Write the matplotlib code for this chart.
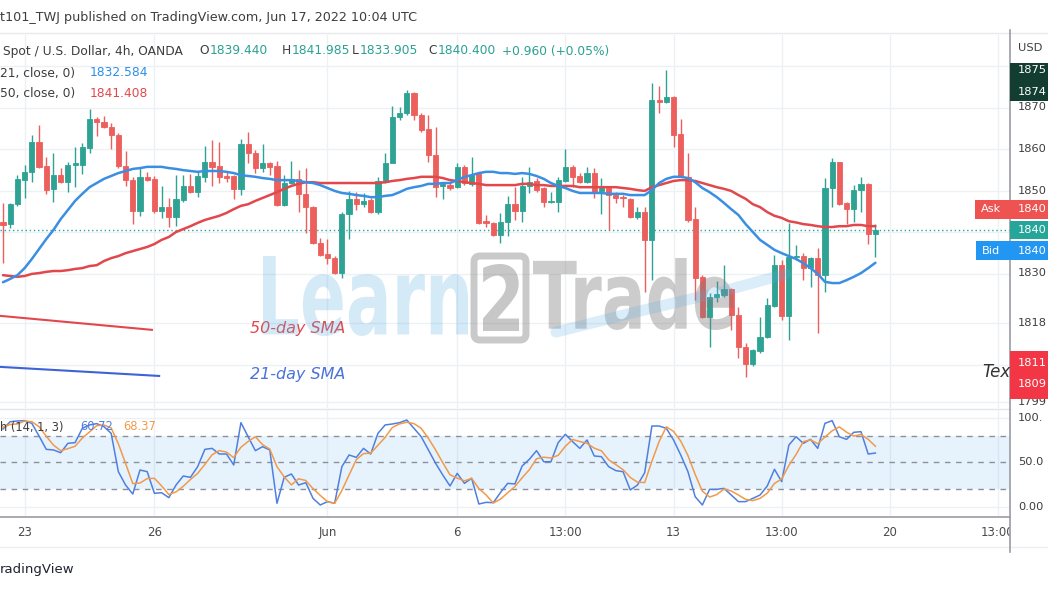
import matplotlib
matplotlib.use("Agg")
import matplotlib.pyplot as plt
import numpy as np
from matplotlib.patches import Rectangle, PathPatch, FancyBboxPatch
from matplotlib.textpath import TextPath
from matplotlib.font_manager import FontProperties
from matplotlib.transforms import Affine2D, IdentityTransform, blended_transform_factory
from matplotlib.lines import Line2D

# ---------------- data (XAU/USD 4h, OANDA) ----------------
opens = [1842.4, 1841.9, 1846.7, 1852.5, 1854.5, 1861.7, 1855.9, 1850.4, 1853.7, 1852.0,
         1856.1, 1856.1, 1860.2, 1867.2, 1866.5, 1865.3, 1863.4, 1855.9, 1852.5, 1845.1,
         1853.3, 1852.8, 1845.1, 1846.0, 1843.6, 1847.7, 1851.1, 1849.6, 1853.3, 1856.9,
         1855.9, 1853.5, 1853.5, 1850.4, 1861.2, 1859.0, 1855.4, 1856.6, 1855.9, 1846.5,
         1851.8, 1852.8, 1849.2, 1846.0, 1837.4, 1834.7, 1833.7, 1830.1, 1844.3, 1848.0,
         1846.7, 1847.7, 1844.8, 1852.0, 1856.6, 1867.7, 1868.7, 1873.5, 1868.2, 1864.8,
         1858.6, 1851.1, 1851.3, 1850.8, 1855.7, 1851.6, 1854.2, 1842.7, 1842.2, 1839.3,
         1842.4, 1846.7, 1845.1, 1851.1, 1852.3, 1850.6, 1847.2, 1847.2, 1852.3, 1855.7,
         1853.5, 1852.0, 1854.2, 1849.9, 1850.6, 1848.9, 1848.4, 1848.0, 1843.6, 1844.8,
         1838.1, 1871.8, 1871.3, 1872.5, 1863.6, 1853.3, 1843.1, 1829.2, 1819.5, 1824.3,
         1824.8, 1826.3, 1820.0, 1812.3, 1808.2, 1811.3, 1814.7, 1822.2, 1832.0, 1819.8,
         1834.0, 1834.2, 1831.3, 1833.7, 1829.6, 1850.6, 1856.9, 1847.0, 1845.5, 1850.1,
         1851.6, 1839.44]
highs = [1847.0, 1847.0, 1853.7, 1856.1, 1863.4, 1865.8, 1858.1, 1859.0, 1855.4, 1856.9,
         1860.5, 1861.4, 1869.6, 1867.7, 1868.0, 1866.3, 1863.9, 1859.5, 1853.3, 1855.7,
         1854.5, 1853.5, 1851.1, 1848.2, 1853.7, 1853.7, 1854.0, 1854.7, 1860.7, 1862.2,
         1861.7, 1854.5, 1853.7, 1862.4, 1864.1, 1859.8, 1861.2, 1856.9, 1857.1, 1853.7,
         1857.1, 1854.9, 1855.4, 1846.3, 1838.6, 1838.3, 1834.2, 1844.8, 1849.9, 1849.6,
         1849.4, 1848.2, 1853.3, 1859.0, 1870.4, 1870.1, 1874.2, 1873.7, 1868.7, 1868.2,
         1865.3, 1851.8, 1851.8, 1856.6, 1856.1, 1858.1, 1854.2, 1844.1, 1842.4, 1844.6,
         1848.7, 1850.8, 1853.3, 1855.7, 1853.0, 1850.8, 1849.6, 1853.3, 1860.0, 1856.1,
         1854.2, 1855.7, 1855.4, 1853.0, 1850.8, 1849.6, 1848.9, 1848.2, 1846.0, 1846.0,
         1875.9, 1875.2, 1879.0, 1872.8, 1867.2, 1859.0, 1846.0, 1829.6, 1825.3, 1828.2,
         1832.0, 1826.5, 1821.9, 1813.3, 1811.8, 1819.5, 1824.1, 1834.5, 1833.3, 1842.2,
         1836.9, 1834.9, 1834.0, 1836.1, 1853.0, 1857.8, 1856.9, 1847.2, 1851.3, 1853.3,
         1851.8, 1841.985]
lows = [1832.5, 1841.0, 1846.3, 1848.2, 1852.0, 1855.4, 1849.2, 1847.2, 1851.8, 1849.6,
        1850.8, 1854.0, 1859.0, 1863.1, 1865.1, 1860.0, 1855.4, 1851.1, 1841.9, 1843.9,
        1852.3, 1844.6, 1843.4, 1841.2, 1841.4, 1847.2, 1849.4, 1848.4, 1852.0, 1851.1,
        1851.8, 1852.0, 1848.0, 1848.9, 1856.6, 1854.2, 1854.5, 1853.7, 1846.3, 1846.3,
        1851.6, 1844.8, 1839.8, 1837.1, 1834.2, 1832.3, 1829.9, 1828.9, 1838.3, 1845.3,
        1846.0, 1844.6, 1844.3, 1851.8, 1856.6, 1867.0, 1868.2, 1867.0, 1864.1, 1856.9,
        1848.4, 1848.0, 1850.1, 1850.6, 1851.3, 1851.1, 1842.0, 1841.2, 1839.0, 1837.4,
        1839.0, 1842.9, 1842.4, 1849.4, 1849.6, 1846.0, 1847.0, 1844.8, 1852.0, 1850.8,
        1851.8, 1851.8, 1848.2, 1844.3, 1840.5, 1847.0, 1846.0, 1843.4, 1843.1, 1825.5,
        1828.4, 1868.7, 1871.1, 1860.5, 1853.3, 1842.4, 1823.6, 1819.3, 1812.3, 1823.1,
        1824.3, 1816.4, 1809.6, 1805.1, 1807.7, 1810.8, 1814.5, 1821.9, 1818.8, 1814.0,
        1833.3, 1828.4, 1826.7, 1815.7, 1825.5, 1846.0, 1846.5, 1841.9, 1842.4, 1844.8,
        1837.1, 1833.905]
closes = [1841.7, 1846.7, 1852.8, 1854.5, 1861.7, 1855.7, 1850.1, 1853.7, 1852.0, 1856.1,
          1856.6, 1860.5, 1867.2, 1866.5, 1865.3, 1863.4, 1855.9, 1852.5, 1845.1, 1853.3,
          1852.5, 1845.1, 1846.0, 1843.6, 1848.0, 1851.1, 1849.6, 1853.5, 1856.9, 1855.7,
          1853.3, 1853.0, 1850.4, 1861.2, 1859.0, 1855.4, 1856.6, 1855.7, 1846.5, 1851.8,
          1852.8, 1849.2, 1846.0, 1837.4, 1834.5, 1833.7, 1830.1, 1844.3, 1848.0, 1846.7,
          1847.5, 1844.8, 1852.3, 1856.6, 1867.7, 1868.7, 1873.5, 1868.2, 1864.6, 1858.6,
          1850.8, 1851.6, 1850.6, 1855.7, 1851.8, 1853.7, 1842.2, 1842.2, 1839.3, 1842.4,
          1846.7, 1845.1, 1851.1, 1852.0, 1850.1, 1847.2, 1847.5, 1852.5, 1855.7, 1853.3,
          1852.0, 1854.2, 1849.6, 1850.6, 1848.9, 1848.2, 1848.2, 1843.6, 1844.8, 1838.1,
          1871.8, 1871.3, 1872.5, 1863.4, 1853.3, 1842.9, 1828.9, 1819.5, 1824.3, 1825.1,
          1826.3, 1820.0, 1812.3, 1808.2, 1811.6, 1814.7, 1822.4, 1832.0, 1819.8, 1834.0,
          1834.2, 1831.3, 1833.7, 1829.6, 1850.6, 1856.9, 1846.7, 1845.5, 1850.1, 1851.6,
          1839.5, 1840.40]

sma21 = [1827.9, 1828.7, 1829.6, 1831.3, 1833.5, 1835.9, 1838.3, 1840.5, 1843.1, 1845.3,
         1847.5, 1849.2, 1850.8, 1851.8, 1852.8, 1853.5, 1854.2, 1854.7, 1855.2, 1855.4,
         1855.7, 1855.7, 1855.7, 1855.4, 1855.2, 1854.9, 1854.7, 1854.5, 1854.7, 1854.7,
         1854.7, 1854.5, 1854.2, 1853.7, 1853.5, 1853.3, 1853.0, 1852.8, 1852.5, 1852.5,
         1852.5, 1852.3, 1852.0, 1851.8, 1851.3, 1850.6, 1849.9, 1849.4, 1849.2, 1848.9,
         1848.7, 1848.4, 1848.4, 1848.7, 1848.9, 1849.6, 1850.4, 1850.8, 1851.1, 1851.6,
         1851.6, 1851.8, 1851.8, 1852.5, 1853.3, 1853.7, 1854.2, 1854.5, 1854.5, 1854.2,
         1854.2, 1854.0, 1854.2, 1854.0, 1853.5, 1852.8, 1851.8, 1851.1, 1850.6, 1849.9,
         1849.4, 1849.4, 1849.4, 1849.4, 1849.2, 1849.2, 1849.2, 1848.9, 1848.9, 1848.9,
         1850.1, 1851.8, 1852.8, 1853.3, 1853.3, 1853.0, 1852.0, 1850.6, 1849.6, 1848.4,
         1847.0, 1845.5, 1844.1, 1841.9, 1840.0, 1838.1, 1836.9, 1835.7, 1834.9, 1834.2,
         1833.5, 1832.5, 1831.3, 1829.9, 1828.0, 1827.7, 1827.7, 1828.4, 1829.2, 1830.1,
         1831.3, 1832.584]
sma50 = [1829.6, 1829.4, 1829.2, 1829.4, 1829.9, 1830.1, 1830.4, 1830.6, 1830.6, 1830.8,
         1831.1, 1831.3, 1831.8, 1832.0, 1833.0, 1833.7, 1834.2, 1834.9, 1835.4, 1835.9,
         1836.4, 1837.1, 1838.1, 1838.8, 1840.0, 1840.7, 1841.4, 1842.2, 1842.9, 1843.4,
         1843.9, 1844.6, 1845.5, 1846.3, 1846.7, 1847.5, 1848.2, 1848.9, 1849.6, 1850.4,
         1851.1, 1851.6, 1852.0, 1852.0, 1851.8, 1851.8, 1851.8, 1851.8, 1851.8, 1851.8,
         1851.8, 1851.8, 1851.8, 1852.0, 1852.3, 1852.5, 1852.8, 1853.0, 1853.3, 1853.3,
         1853.3, 1853.0, 1852.5, 1852.3, 1852.0, 1851.8, 1851.6, 1851.3, 1851.3, 1851.3,
         1851.3, 1851.3, 1851.6, 1851.6, 1851.3, 1851.3, 1851.1, 1851.1, 1851.1, 1851.1,
         1850.8, 1850.8, 1850.8, 1850.8, 1850.8, 1850.8, 1850.6, 1850.4, 1850.1, 1849.9,
         1850.8, 1851.3, 1851.8, 1852.3, 1852.5, 1852.5, 1852.3, 1851.8, 1851.3, 1850.8,
         1850.4, 1849.9, 1848.9, 1848.0, 1846.7, 1846.0, 1844.8, 1843.9, 1843.4, 1842.6,
         1842.3, 1841.9, 1841.7, 1841.4, 1841.2, 1841.2, 1841.4, 1841.4, 1841.7, 1841.7,
         1841.4, 1841.408]

stoch_k = [88.0, 96.2, 97.0, 97.4, 94.3, 80.0, 64.9, 64.2, 61.1, 71.7,
           72.5, 88.7, 92.5, 94.0, 90.6, 83.0, 39.6, 24.5, 14.3, 41.5,
           39.6, 15.1, 15.8, 10.2, 24.5, 34.7, 33.2, 45.3, 64.9, 66.0,
           59.6, 59.6, 47.2, 95.1, 79.2, 63.4, 67.9, 64.2, 3.8, 33.2,
           37.0, 24.5, 27.2, 9.4, 1.9, 5.7, 3.8, 45.3, 58.5, 55.8,
           66.0, 59.6, 83.0, 92.5, 93.6, 95.1, 98.1, 88.7, 79.2, 64.2,
           49.1, 35.8, 23.4, 37.7, 26.4, 32.1, 3.0, 4.9, 4.5, 16.0,
           26.4, 25.7, 46.0, 53.6, 63.4, 50.9, 50.9, 72.5, 81.9, 73.6,
           66.0, 75.5, 57.4, 56.6, 45.3, 40.8, 39.6, 18.9, 24.5, 38.5,
           91.3, 91.3, 88.7, 75.5, 58.5, 39.6, 11.3, 1.9, 19.6, 19.6,
           20.7, 13.2, 5.7, 5.7, 9.4, 13.2, 23.4, 42.3, 28.3, 69.8,
           79.2, 71.7, 76.2, 66.0, 94.3, 97.4, 79.2, 76.2, 84.2, 84.9,
           59.6, 60.72]
stoch_d = [90.0, 93.0, 93.7, 96.9, 96.2, 90.6, 79.7, 69.7, 63.4, 65.7,
           68.4, 77.6, 84.6, 91.7, 92.4, 89.2, 71.1, 49.0, 26.1, 26.8,
           31.8, 32.1, 23.5, 13.7, 16.8, 23.1, 30.8, 37.7, 47.8, 58.7,
           63.5, 61.7, 55.5, 67.3, 73.8, 79.2, 70.2, 65.2, 45.3, 33.7,
           24.7, 31.6, 29.6, 20.4, 12.8, 5.7, 3.8, 18.3, 35.9, 53.2,
           60.1, 60.5, 69.5, 78.4, 89.7, 93.7, 95.6, 94.0, 88.7, 77.4,
           64.2, 49.7, 36.1, 32.3, 29.2, 32.1, 20.5, 13.3, 4.1, 8.5,
           15.8, 22.7, 32.7, 41.8, 54.3, 56.0, 55.1, 58.1, 68.4, 76.0,
           73.8, 71.7, 66.3, 63.2, 53.1, 47.6, 41.9, 33.1, 27.7, 27.3,
           51.4, 73.7, 90.4, 85.2, 74.2, 57.9, 36.5, 17.6, 10.9, 13.7,
           20.0, 17.8, 13.2, 8.2, 6.9, 9.4, 15.3, 26.3, 31.3, 46.8,
           59.1, 73.6, 75.7, 71.3, 78.8, 85.9, 90.3, 84.3, 79.9, 81.8,
           76.2, 68.37]

time_tick_idx = [3, 21, 45, 63, 78, 93, 108, 123, 138]
time_tick_labels = ["23", "26", "Jun", "6", "13:00", "13", "13:00", "20", "13:00"]
price_grid = [1880, 1870, 1860, 1850, 1840, 1830, 1818, 1808, 1799]
price_labels = {1870: "1870", 1860: "1860", 1850: "1850", 1830: "1830", 1818: "1818", 1799: "1799"}
stoch_labels = {100: "100.", 50: "50.0", 0: "0.00"}

# user drawings (trend-line legend marks) in chart coordinates
draw_red_x, draw_red_y = [-0.42, 20.8], [1819.8, 1816.4]
draw_blue_x, draw_blue_y = [-0.42, 21.8], [1807.5, 1805.3]

# ---------------- layout ----------------
W, H = 1048, 590
fig = plt.figure(figsize=(W / 100, H / 100), dpi=100)
fig.patch.set_facecolor("white")

def fx(x):
    return x / W

def fy(y):
    return 1 - y / H

X0, STEP = 3.0, 7.21       # pixel x of first candle, pixel spacing
AXR = 1010                  # right price-scale edge
MT, MB = 35, 408            # main pane top/bottom px
ST, SB = 410, 516           # stoch pane top/bottom px

def px2idx(x):
    return (x - X0) / STEP

def price_at(y):
    return 1850 - (y - 190.5) / 4.15

def stoch_at(y):
    return 80 - (y - 436) / 0.8833

UP, DN = "#2ea394", "#ec5f5c"
GRID = "#edf0f4"
TXT = "#3d3d3d"
AXFS = 8.2

ax = fig.add_axes([0, fy(MB), fx(AXR), (MB - MT) / H])
ax2 = fig.add_axes([0, fy(SB), fx(AXR), (SB - ST) / H])
for a in (ax, ax2):
    a.set_xlim(px2idx(0), px2idx(AXR))
    for s in a.spines.values():
        s.set_visible(False)
    a.set_facecolor("none")
    a.tick_params(left=False, right=False, labelleft=False)
ax.set_ylim(price_at(MB), price_at(MT))
ax2.set_ylim(stoch_at(SB), stoch_at(ST))
ax.set_xticks([])
ax.set_yticks([])
ax2.set_yticks([])

# grids
for p in price_grid:
    ax.axhline(p, color=GRID, lw=1, zorder=0)
for t in time_tick_idx:
    ax.axvline(t, color=GRID, lw=1, zorder=0)
    ax2.axvline(t, color=GRID, lw=1, zorder=0)
for v in (0, 100):
    ax2.axhline(v, color=GRID, lw=1, zorder=0)

# candles
idx = np.arange(len(opens))
o = np.array(opens); h = np.array(highs); l = np.array(lows); c = np.array(closes)
cols = np.where(c >= o, UP, DN)
ax.vlines(idx, l, h, colors=cols, lw=1.0, zorder=3)
ax.bar(idx, np.abs(c - o), bottom=np.minimum(o, c), width=0.72, color=cols,
       edgecolor=cols, lw=0.6, zorder=4)

# moving averages
ax.plot(idx, sma50, color="#e2474c", lw=1.8, zorder=5, solid_capstyle="round")
ax.plot(idx, sma21, color="#3a8fe3", lw=1.8, zorder=5, solid_capstyle="round")

# last price dotted line
ax.axhline(closes[-1], color="#26a69a", lw=1.0, ls=(0, (1, 2)), zorder=2)

# drawings and annotation texts
ax.plot(draw_red_x, draw_red_y, color="#e2474c", lw=1.5, zorder=5, solid_capstyle="butt")
ax.plot(draw_blue_x, draw_blue_y, color="#3d63d6", lw=1.5, zorder=5, solid_capstyle="butt")
ax.text(px2idx(250), price_at(329), "50-day SMA", color="#e2474c", fontsize=11.5,
        style="italic", va="center", ha="left", zorder=6)
ax.text(px2idx(250), price_at(374), "21-day SMA", color="#4a72d8", fontsize=11.5,
        style="italic", va="center", ha="left", zorder=6)

# stochastic pane
ax2.axhspan(20, 80, color="#2196f3", alpha=0.11, lw=0, zorder=0.5)
for v in (80, 50, 20):
    ax2.axhline(v, color="#8d9099", lw=1.0, ls=(0, (4, 4)), zorder=1)
ax2.plot(idx, stoch_k, color="#4f7fdf", lw=1.1, zorder=3)
ax2.plot(idx, stoch_d, color="#f2994a", lw=1.1, zorder=3)

ax2.set_xticks(time_tick_idx)
ax2.set_xticklabels(time_tick_labels)
ax2.tick_params(axis="x", length=0, pad=7, labelsize=8.5, labelcolor="#4a4a4a")

# ---------------- watermark ----------------
def fit_text(s, x0, x1, ytop, ybot, color, alpha, z=6, weight="bold"):
    tp = TextPath((0, 0), s, size=100,
                  prop=FontProperties(family="DejaVu Sans", weight=weight))
    ext = tp.get_extents()
    sx = (x1 - x0) / ext.width
    sy = (ybot - ytop) / ext.height
    tr = Affine2D().translate(-ext.x0, -ext.y0).scale(sx, sy).translate(x0, H - ybot)
    patch = PathPatch(tr.transform_path(tp), fc=color, ec="none", alpha=alpha,
                      transform=IdentityTransform(), zorder=z)
    fig.add_artist(patch)

fit_text("Learn", 263, 468, 256, 336, "#5eaee3", 0.26)
fig.add_artist(FancyBboxPatch((474, H - 340), 52, 84, boxstyle="round,pad=0,rounding_size=6",
                              fc="none", ec="#7a7a7a", lw=5, alpha=0.4,
                              transform=IdentityTransform(), zorder=6))
fit_text("2", 483, 519, 264, 331, "#7a7a7a", 0.42)
fit_text("Trade", 533, 733, 258, 330, "#7a7a7a", 0.38)
fig.add_artist(Line2D([556, 640, 720, 786], [H - 332, H - 311, H - 292, H - 274],
                      color="#5eaee3", lw=8, alpha=0.22, solid_capstyle="round",
                      transform=IdentityTransform(), zorder=6))

# ---------------- frame lines ----------------
def hline(y, x0, x1, color, lw=1.0):
    fig.add_artist(Line2D([fx(x0), fx(x1)], [fy(y), fy(y)], color=color, lw=lw,
                          transform=fig.transFigure, zorder=7))

def vline(x, y0, y1, color, lw=1.0):
    fig.add_artist(Line2D([fx(x), fx(x)], [fy(y0), fy(y1)], color=color, lw=lw,
                          transform=fig.transFigure, zorder=7))

hline(33, 0, W, "#e6e8ec")
hline(409, 0, AXR, "#e3e5e9")
hline(516.5, 0, AXR, "#9a9ca3", 1.2)
hline(547, 0, W, "#eceef1")

# cover of time labels under price scale
fig.add_artist(Rectangle((fx(AXR), fy(547)), fx(W - AXR), (547 - 517) / H, fc="white", ec="none",
                         transform=fig.transFigure, zorder=6.5))
vline(AXR, 30, 552, "#9a9ca3", 1.2)

# ---------------- header & legends ----------------
fig.text(fx(0), fy(17), "t101_TWJ published on TradingView.com, Jun 17, 2022 10:04 UTC",
         fontsize=9.2, color=TXT, va="center", ha="left")
TEAL = "#2aa193"
y1 = fy(51)
fig.text(fx(3), y1, "Spot / U.S. Dollar, 4h, OANDA", fontsize=8.8, color=TXT, va="center")
for lab, num, xl, xn in [("O", "1839.440", 199, 210), ("H", "1841.985", 282, 292),
                         ("L", "1833.905", 352, 360), ("C", "1840.400", 428, 438)]:
    fig.text(fx(xl), y1, lab, fontsize=8.8, color=TXT, va="center")
    fig.text(fx(xn), y1, num, fontsize=8.8, color=TEAL, va="center")
fig.text(fx(502), y1, "+0.960 (+0.05%)", fontsize=8.8, color=TEAL, va="center")
fig.text(fx(0), fy(73), "21, close, 0)", fontsize=8.8, color=TXT, va="center")
fig.text(fx(90), fy(73), "1832.584", fontsize=8.8, color="#2b8ee8", va="center")
fig.text(fx(0), fy(93), "50, close, 0)", fontsize=8.8, color=TXT, va="center")
fig.text(fx(90), fy(93), "1841.408", fontsize=8.8, color="#e2474c", va="center")

fig.text(fx(0), fy(427), "h (14, 1, 3)", fontsize=8.3, color=TXT, va="center")
fig.text(fx(80), fy(427), "60.72", fontsize=8.3, color="#4f7fdf", va="center")
fig.text(fx(123), fy(427), "68.37", fontsize=8.3, color="#f2994a", va="center")

fig.text(fx(0), fy(569), "radingView", fontsize=9.5, color="#1e2230", va="center")

# ---------------- price scale ----------------
tr_main = blended_transform_factory(fig.transFigure, ax.transData)
for p, s in price_labels.items():
    ax.text(fx(1018), p, s, transform=tr_main, fontsize=AXFS, color=TXT, va="center",
            ha="left", clip_on=False, zorder=8)
tr_st = blended_transform_factory(fig.transFigure, ax2.transData)
for v, s in stoch_labels.items():
    ax2.text(fx(1018), v, s, transform=tr_st, fontsize=AXFS, color=TXT, va="center",
             ha="left", clip_on=False, zorder=8)
fig.text(fx(1018), fy(48), "USD", fontsize=AXFS, color=TXT, va="center")

def tag(x0, y0, x1, y1, color, z=8):
    fig.add_artist(Rectangle((fx(x0), fy(y1)), fx(x1 - x0), (y1 - y0) / H, fc=color, ec="none",
                             transform=fig.transFigure, zorder=z))

fig.text(fx(982), fy(372), "Tex", fontsize=12, style="italic", color="#333333", va="center",
         zorder=7.5)
tag(1010, 63, W, 101, "#123d30")
fig.text(fx(1018), fy(70), "1875", fontsize=AXFS, color="white", va="center", zorder=9)
fig.text(fx(1018), fy(92), "1874", fontsize=AXFS, color="white", va="center", zorder=9)
tag(975, 200, W, 219, "#ee5352")
fig.text(fx(981), fy(209.5), "Ask", fontsize=AXFS, color="white", va="center", zorder=9)
fig.text(fx(1018), fy(209.5), "1840", fontsize=AXFS, color="white", va="center", zorder=9)
tag(1010, 221, W, 239, "#26a69a")
fig.text(fx(1018), fy(230), "1840", fontsize=AXFS, color="white", va="center", zorder=9)
tag(976, 241, W, 260, "#2196f3")
fig.text(fx(982), fy(250.5), "Bid", fontsize=AXFS, color="white", va="center", zorder=9)
fig.text(fx(1018), fy(250.5), "1840", fontsize=AXFS, color="white", va="center", zorder=9)
tag(1010, 351, W, 399, "#f23645")
fig.text(fx(1018), fy(363), "1811", fontsize=AXFS, color="white", va="center", zorder=9)
fig.text(fx(1018), fy(384), "1809", fontsize=AXFS, color="white", va="center", zorder=9)

fig.savefig("out.png", dpi=100, facecolor="white")
